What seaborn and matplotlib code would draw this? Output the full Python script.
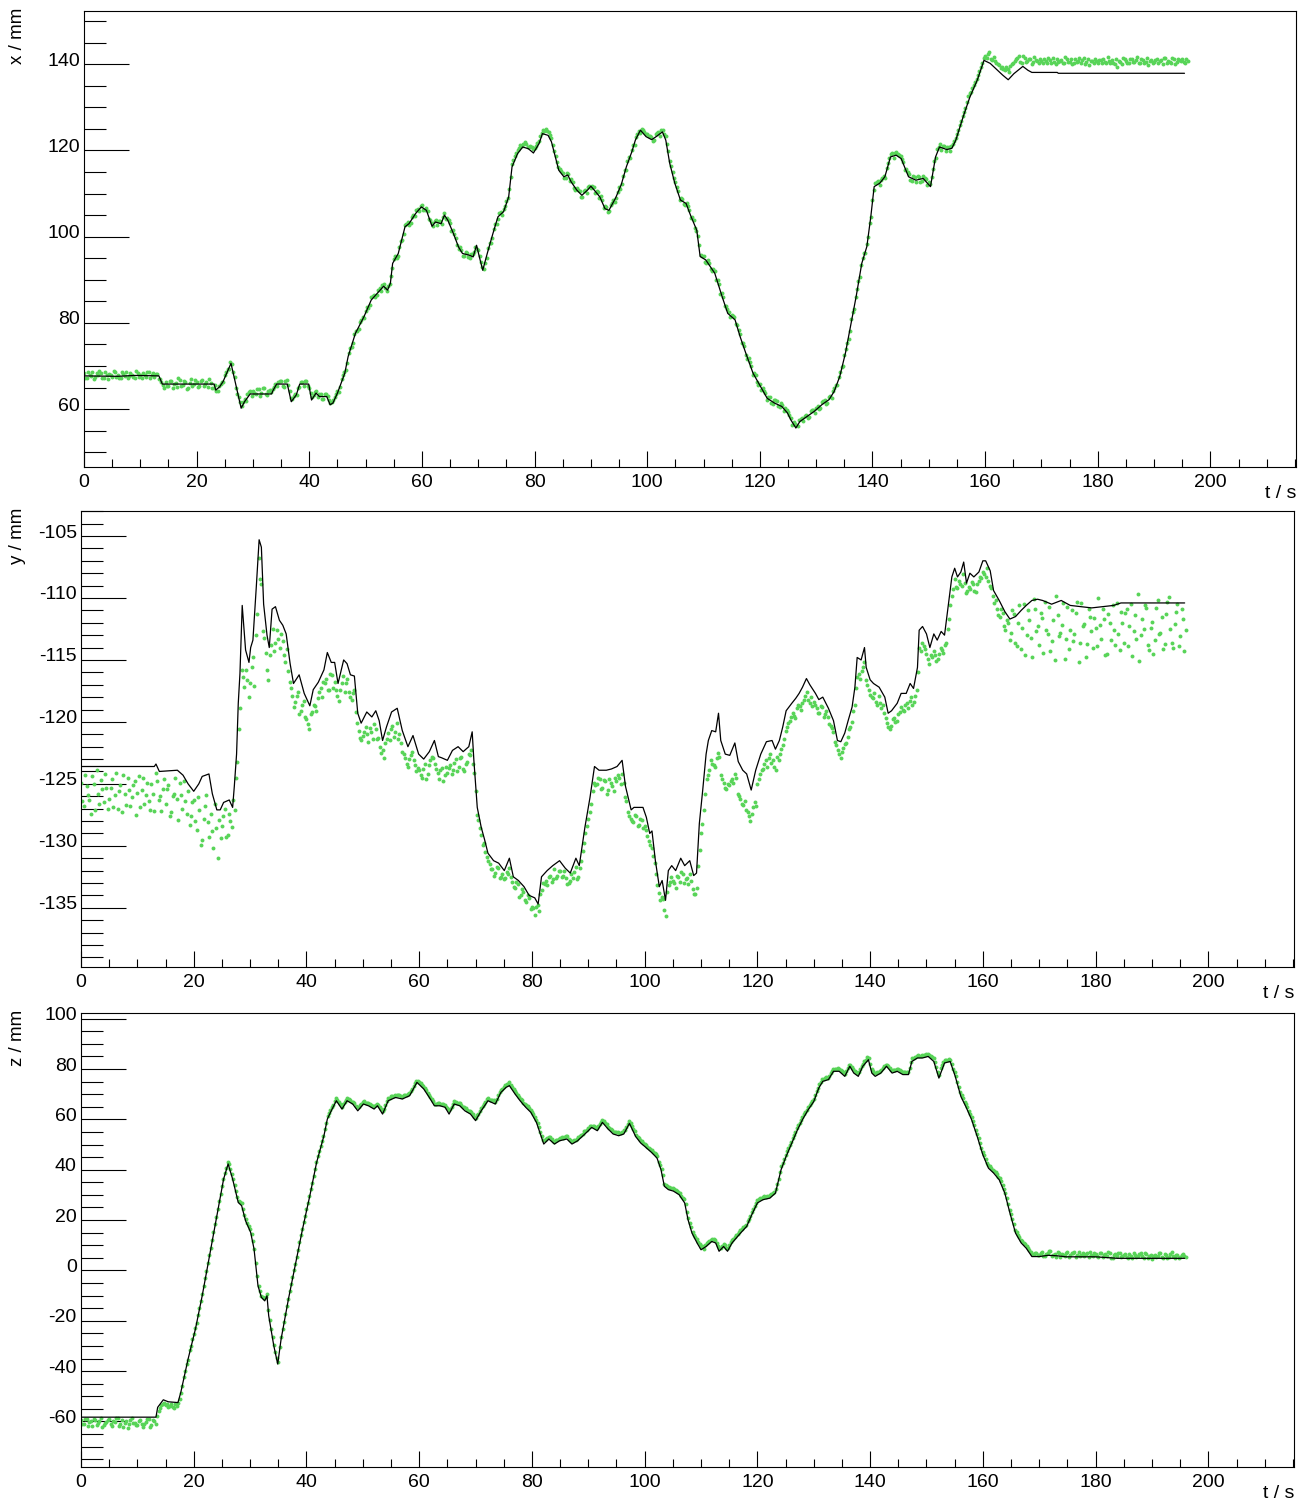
import numpy as np
import pandas as pd
import matplotlib
matplotlib.use("Agg")
import matplotlib.pyplot as plt
from matplotlib.ticker import MultipleLocator
from matplotlib.transforms import ScaledTranslation
import seaborn as sns

# Two interleaved measurement streams, each sampled every SAMPLE_DT;
# stream "a" starts at t = 0 s, stream "b" at t = 0.25 s.
SAMPLE_DT = 0.5
STREAM_B_START = 0.25

# Reconstructed track: (t / s, x / mm)
x_track = [
    (0, 67.7), (6, 67.6), (9, 67.8), (13.3, 67.7), (13.9, 65.8), (23.1, 65.8), (23.4, 64.4),
    (24.1, 65.2), (24.7, 66.4), (26.1, 70.6), (27.9, 60.2), (28.5, 61.7), (29.5, 63.5),
    (33.3, 63.5), (33.6, 64.4), (34.2, 65.8), (36.1, 65.8), (36.8, 61.7), (37.7, 63.3),
    (38.3, 65.8), (39.9, 65.8), (40.4, 62.1), (41.2, 63.7), (41.8, 62.9), (43.1, 62.9),
    (43.7, 61.0), (44.2, 61.4), (45.0, 63.7), (46.3, 68.3), (46.9, 72.2), (48.2, 77.6),
    (49.7, 81.4), (51.0, 85.3), (52.6, 87.6), (53.2, 88.5), (53.9, 87.6), (54.4, 89.2),
    (54.8, 93.8), (55.8, 96.1), (57.0, 102.3), (57.7, 103.0), (58.9, 105.4), (59.9, 106.9),
    (60.8, 106.1), (61.8, 102.4), (62.4, 103.4), (63.4, 103.0), (64.0, 105.0), (64.6, 103.8),
    (65.6, 100.7), (66.5, 97.6), (67.2, 96.1), (68.4, 95.7), (69.1, 95.3), (69.7, 98.0),
    (70.2, 95.3), (70.8, 92.2), (71.6, 96.1), (72.6, 100.7), (73.5, 104.6), (74.5, 105.8),
    (75.4, 109.2), (76.0, 116.2), (77.0, 119.3), (77.9, 120.8), (78.9, 120.4), (79.8, 119.4),
    (80.8, 121.6), (81.4, 123.9), (82.4, 123.5), (83.0, 122.0), (84.3, 115.4), (85.2, 113.9),
    (85.9, 114.3), (86.5, 112.7), (87.5, 110.8), (88.4, 109.6), (89.4, 110.8), (90.0, 111.7),
    (90.6, 110.8), (91.6, 109.2), (92.5, 106.5), (93.2, 106.1), (94.4, 109.0), (95.4, 112.1),
    (96.3, 116.2), (97.3, 119.8), (97.9, 122.4), (98.8, 124.7), (99.8, 123.2), (100.8, 122.5),
    (101.7, 123.3), (102.7, 124.3), (103.3, 122.4), (104.0, 117.0), (104.9, 112.4),
    (105.9, 108.5), (106.9, 107.7), (107.8, 104.6), (108.8, 101.5), (109.4, 95.4), (110.4, 94.6),
    (112.0, 91.5), (113.3, 86.1), (114.3, 82.2), (115.6, 80.7), (116.5, 76.8), (117.5, 73.0),
    (118.8, 68.3), (120.1, 65.3), (121.3, 62.5), (122.6, 61.4), (123.9, 60.6), (124.9, 59.1),
    (125.5, 57.5), (126.4, 55.6), (127.1, 57.1), (128.4, 58.3), (129.7, 59.5), (131.0, 61.0),
    (132.3, 62.2), (133.2, 64.1), (134.2, 67.6), (135.2, 73.0), (136.1, 79.2), (137.1, 86.1),
    (138.1, 93.8), (139.0, 97.7), (139.7, 104.6), (140.3, 111.6), (141.3, 112.4), (142.2, 113.9),
    (143.2, 118.5), (144.2, 118.9), (145.1, 118.1), (146.4, 113.9), (147.7, 113.1),
    (149.0, 113.5), (150.3, 111.6), (151.2, 118.5), (151.9, 120.8), (153.2, 120.2),
    (154.1, 120.5), (154.8, 122.4), (156.1, 127.8), (157.3, 132.4), (158.6, 136.3),
    (159.8, 140.9), (160.9, 140.2), (162.2, 138.6), (163.1, 137.5), (164.1, 136.4),
    (165.1, 137.8), (166.7, 139.5), (167.6, 138.6), (168.3, 138.1), (172.8, 138.1),
    (173.0, 137.9), (195.4, 137.9),
]

# Measured x, stream a
x_meas_a = [
    68.3, 67.2, 68.0, 68.6, 67.4, 67.9, 68.4, 67.1, 67.8, 68.2,
    67.5, 68.5, 67.9, 67.3, 68.1, 68.7, 67.6, 68.0, 67.2, 68.4,
    67.8, 68.3, 67.5, 68.6, 67.9, 67.4, 68.2, 66.9, 65.6, 66.2,
    65.3, 66.4, 65.9, 65.1, 66.7, 65.6, 66.2, 65.0, 66.9, 65.8,
    66.3, 65.4, 66.8, 65.7, 65.2, 66.1, 64.9, 64.2, 65.3, 66.2,
    67.9, 69.2, 70.9, 68.6, 65.0, 62.9, 60.8, 62.3, 63.4, 64.1,
    64.2, 63.4, 64.6, 63.8, 64.9, 63.2, 64.4, 64.6, 65.7, 66.3,
    66.4, 65.2, 66.7, 64.1, 62.4, 63.6, 64.9, 66.3, 65.4, 66.6,
    65.0, 62.8, 63.9, 62.7, 63.6, 62.4, 63.5, 62.2, 61.6, 62.7,
    64.2, 65.1, 67.8, 69.1, 73.0, 74.3, 77.3, 78.0, 80.1, 81.4,
    82.8, 83.5, 85.9, 86.4, 86.4, 88.1, 88.7, 88.0, 88.6, 90.9,
    94.8, 95.1, 97.6, 99.3, 102.8, 103.3, 103.2, 105.1, 106.1, 106.0,
    107.3, 106.1, 105.9, 103.9, 102.4, 103.9, 103.7, 102.9, 105.5, 104.4,
    103.1, 101.5, 99.8, 97.1, 96.9, 95.4, 96.3, 95.1, 95.9, 97.6,
    96.9, 94.2, 92.6, 95.1, 98.5, 99.8, 102.9, 104.2, 105.7, 106.3,
    108.2, 111.0, 116.9, 118.6, 120.1, 121.2, 121.6, 121.5, 120.8, 120.9,
    120.6, 121.8, 123.3, 124.7, 124.9, 124.2, 122.8, 119.9, 117.4, 115.6,
    114.7, 113.6, 114.6, 113.3, 111.3, 111.4, 110.6, 109.2, 110.9, 111.5,
    111.2, 111.6, 110.7, 108.9, 108.6, 107.0, 105.7, 107.3, 108.6, 109.0,
    111.5, 112.2, 115.4, 117.5, 118.3, 121.3, 123.2, 124.6, 125.0, 124.2,
    123.8, 123.4, 122.3, 123.7, 124.2, 124.8, 123.9, 121.5, 117.6, 114.9,
    112.6, 110.7, 108.9, 107.5, 107.9, 106.1, 104.5, 102.0, 100.1, 95.8,
    95.5, 93.9, 94.0, 92.0, 92.1, 89.9, 86.8, 85.9, 84.0, 82.6,
    81.9, 81.4, 79.5, 77.3, 75.4, 72.6, 71.8, 69.9, 68.3, 66.2,
    65.9, 64.9, 63.7, 62.8, 61.4, 62.0, 61.8, 60.4, 61.0, 60.2,
    59.3, 58.0, 56.9, 56.3, 57.4, 58.0, 58.5, 57.9, 59.5, 59.8,
    60.3, 60.0, 61.6, 62.0, 61.4, 63.1, 64.2, 65.6, 67.4, 69.8,
    72.5, 75.4, 78.1, 82.6, 86.0, 89.7, 93.5, 96.2, 98.3, 103.1,
    108.6, 112.4, 112.8, 113.2, 114.1, 115.9, 118.2, 119.3, 119.5, 119.2,
    118.7, 117.4, 115.8, 114.5, 113.0, 113.8, 114.0, 112.7, 114.1, 113.3,
    112.6, 113.8, 117.6, 120.4, 121.4, 121.1, 119.8, 120.9, 121.0, 122.2,
    123.8, 125.9, 127.9, 129.9, 132.6, 133.6, 135.1, 136.6, 138.5, 140.4,
    141.9, 142.3, 141.2, 141.6, 140.3, 139.8, 139.4, 138.7, 138.9, 139.7,
    140.2, 141.1, 141.8, 140.4, 141.5, 140.7, 141.3, 140.5, 140.9, 140.2,
    140.8, 141.2, 140.3, 140.9, 141.4, 140.1, 140.6, 141.0, 140.4, 141.3,
    140.6, 140.0, 141.1, 140.7, 140.3, 141.5, 140.5, 139.9, 140.8, 141.2,
    140.4, 140.9, 141.3, 140.2, 140.7, 141.0, 140.1, 139.3, 140.6, 141.4,
    140.8, 140.3, 141.1, 140.5, 141.7, 140.2, 140.9, 140.6, 139.8, 141.0,
    140.5, 141.2, 140.7, 140.0, 141.4, 140.8, 140.3, 141.1, 140.6, 140.9,
    141.3, 140.4, 140.8,
]

# Measured x, stream b
x_meas_b = [
    67.2, 68.6, 67.6, 67.0, 68.3, 68.8, 67.3, 68.5, 67.0, 67.9,
    68.9, 67.4, 67.1, 68.5, 67.6, 67.3, 68.4, 67.4, 68.8, 67.5,
    67.1, 67.9, 68.7, 67.2, 68.4, 68.1, 67.0, 66.2, 65.0, 65.4,
    66.6, 65.0, 66.1, 67.3, 65.4, 66.5, 64.7, 66.0, 65.4, 66.8,
    65.1, 66.6, 65.3, 66.2, 66.9, 64.8, 65.6, 64.1, 65.9, 66.2,
    68.7, 69.3, 70.4, 67.5, 63.6, 61.6, 61.7, 61.8, 63.9, 63.0,
    63.8, 64.7, 63.1, 65.0, 63.6, 64.3, 63.9, 65.2, 65.3, 66.4,
    65.3, 66.5, 65.6, 62.6, 63.1, 63.2, 65.1, 66.2, 66.4, 65.3,
    63.7, 63.3, 64.2, 63.5, 62.4, 63.4, 63.0, 61.5, 62.1, 63.5,
    64.0, 67.0, 68.6, 70.8, 74.2, 75.3, 78.2, 78.6, 80.7, 81.1,
    83.6, 84.2, 86.2, 85.9, 87.6, 87.4, 88.9, 87.3, 89.1, 92.7,
    95.4, 95.6, 98.9, 100.6, 103.0, 102.7, 104.6, 104.7, 106.5, 107.2,
    106.1, 106.6, 104.0, 103.1, 103.6, 102.8, 103.6, 104.6, 104.0, 103.8,
    101.3, 100.7, 98.0, 97.5, 95.6, 96.4, 95.2, 96.0, 96.5, 97.2,
    95.5, 93.0, 94.0, 97.3, 98.6, 101.8, 103.0, 105.4, 105.0, 107.2,
    109.0, 113.9, 117.7, 119.4, 120.6, 121.0, 121.9, 120.9, 121.0, 120.3,
    121.1, 122.2, 124.1, 124.4, 124.5, 123.5, 121.3, 118.6, 116.2, 115.2,
    113.5, 114.7, 112.8, 112.7, 110.8, 110.9, 109.3, 110.5, 110.1, 111.8,
    111.8, 110.1, 110.3, 109.5, 106.7, 106.9, 105.9, 107.9, 108.1, 110.3,
    111.1, 114.1, 115.4, 118.4, 120.1, 121.3, 123.9, 124.1, 124.7, 123.8,
    123.4, 123.1, 122.5, 124.0, 123.3, 124.7, 123.3, 119.9, 116.3, 113.7,
    111.5, 108.6, 108.8, 107.3, 107.1, 104.3, 103.8, 101.2, 98.0, 95.6,
    94.2, 94.5, 92.4, 92.6, 90.0, 88.9, 86.9, 84.0, 83.1, 81.3,
    81.6, 79.7, 78.4, 75.4, 74.6, 71.7, 70.9, 68.0, 67.8, 65.5,
    64.4, 64.3, 62.2, 62.7, 61.2, 62.0, 60.6, 61.3, 59.6, 59.8,
    58.6, 56.4, 56.5, 56.0, 57.8, 57.2, 58.7, 58.1, 59.7, 59.0,
    60.7, 60.2, 61.8, 61.2, 62.7, 62.6, 64.9, 65.5, 68.5, 70.0,
    73.9, 76.2, 80.9, 83.2, 87.9, 90.6, 95.0, 96.2, 100.0, 104.6,
    110.8, 112.6, 111.9, 113.6, 113.6, 117.0, 119.1, 118.2, 119.6, 118.9,
    118.1, 115.5, 115.0, 113.2, 114.0, 112.6, 113.9, 112.9, 113.7, 111.9,
    112.3, 115.6, 118.2, 120.9, 120.2, 121.0, 120.9, 119.9, 121.5, 122.8,
    124.8, 126.9, 129.0, 131.3, 133.3, 134.4, 135.9, 137.5, 139.4, 141.5,
    141.5, 142.8, 140.9, 140.7, 140.0, 139.2, 138.9, 139.3, 138.3, 140.1,
    140.8, 141.4, 140.5, 141.9, 140.6, 141.2, 140.1, 141.6, 140.7, 141.3,
    140.4, 140.7, 141.5, 140.2, 140.6, 141.2, 140.8, 140.3, 141.6, 140.5,
    141.1, 140.4, 140.6, 141.4, 140.9, 140.1, 141.3, 140.7, 140.2, 140.8,
    141.0, 140.3, 140.6, 141.6, 140.4, 140.2, 141.2, 140.8, 140.0, 141.1,
    140.2, 141.3, 140.6, 140.9, 140.3, 141.1, 140.4, 141.5, 140.7, 140.3,
    141.0, 140.2, 140.9, 141.5, 140.3, 140.6, 141.4, 140.1, 141.2, 140.7,
    140.5, 141.1,
]

# Reconstructed track: (t / s, y / mm)
y_track = [
    (0, -123.6), (13.0, -123.6), (13.3, -123.4), (13.9, -124.0), (17.1, -123.9), (18.1, -124.3),
    (19.0, -125.0), (20.0, -125.6), (20.9, -125.0), (21.5, -124.4), (22.7, -124.2),
    (23.3, -125.8), (24.1, -127.1), (24.7, -127.1), (25.3, -126.5), (26.3, -126.3),
    (26.9, -126.9), (27.2, -125.2), (27.6, -122.6), (27.9, -118.5), (28.2, -116.1),
    (28.6, -110.6), (29.2, -114.2), (29.8, -115.2), (30.1, -114.0), (30.5, -113.4),
    (31.1, -109.1), (31.6, -105.3), (32.0, -105.9), (32.4, -110.5), (33.0, -113.0),
    (33.4, -114.0), (33.9, -110.9), (34.5, -110.7), (35.2, -111.8), (35.8, -112.2),
    (36.4, -112.9), (37.1, -115.3), (37.7, -116.9), (38.7, -116.2), (39.6, -117.7),
    (40.6, -118.7), (41.2, -117.4), (42.1, -116.8), (43.1, -115.8), (43.7, -114.4),
    (44.4, -115.2), (45.0, -115.2), (45.6, -116.9), (46.6, -115.0), (47.2, -115.3),
    (47.8, -116.2), (48.5, -116.3), (49.1, -119.3), (49.7, -120.1), (50.7, -119.2),
    (51.6, -119.6), (52.3, -119.1), (52.9, -119.9), (53.5, -121.5), (54.2, -120.4),
    (55.1, -119.2), (56.1, -118.9), (57.0, -120.7), (58.0, -122.0), (58.9, -121.1),
    (59.9, -122.6), (60.8, -123.0), (61.8, -122.4), (62.7, -121.5), (63.4, -122.8),
    (64.0, -122.9), (65.0, -123.1), (65.9, -122.3), (66.9, -122.0), (67.8, -122.4),
    (68.8, -122.0), (69.4, -120.8), (69.7, -123.1), (70.3, -126.9), (71.0, -128.5),
    (71.6, -129.5), (72.2, -130.6), (73.2, -131.2), (74.1, -131.4), (75.1, -132.0),
    (76.0, -131.0), (76.7, -132.5), (77.6, -132.8), (78.6, -133.3), (79.5, -134.0),
    (80.5, -134.2), (81.1, -134.7), (81.7, -132.5), (82.7, -132.0), (83.7, -131.6),
    (84.9, -131.2), (85.9, -131.8), (86.8, -132.2), (87.8, -131.0), (88.4, -131.6),
    (89.4, -128.5), (90.3, -126.1), (91.1, -123.6), (91.9, -123.9), (93.2, -123.9),
    (94.1, -123.8), (95.1, -123.6), (96.0, -123.1), (96.6, -125.2), (97.6, -127.1),
    (98.1, -126.9), (99.7, -126.9), (100.3, -127.7), (100.9, -129.0), (101.3, -128.8),
    (101.9, -131.2), (102.6, -133.3), (103.1, -132.8), (103.7, -134.4), (104.2, -132.0),
    (104.8, -131.6), (105.5, -132.0), (106.4, -131.0), (107.1, -131.6), (108.0, -131.2),
    (108.7, -132.4), (109.2, -132.2), (109.7, -128.2), (110.3, -125.5), (110.9, -122.6),
    (111.3, -121.5), (111.9, -120.7), (112.6, -120.8), (113.1, -119.3), (113.5, -121.5),
    (114.3, -122.6), (115.1, -122.7), (116.0, -121.7), (116.6, -123.2), (117.4, -123.9),
    (118.1, -124.2), (118.9, -125.5), (119.7, -123.9), (120.6, -122.6), (121.6, -121.6),
    (122.6, -121.5), (123.2, -122.2), (123.9, -121.5), (124.5, -120.4), (125.1, -119.1),
    (126.1, -118.5), (126.8, -118.1), (127.4, -117.7), (128.0, -117.2), (128.7, -116.5),
    (129.3, -117.0), (130.3, -117.7), (130.9, -118.2), (131.6, -118.0), (132.6, -118.9),
    (133.5, -119.9), (134.2, -121.5), (134.8, -121.6), (135.5, -120.9), (136.1, -119.9),
    (136.8, -118.8), (137.3, -117.2), (137.7, -114.8), (138.4, -115.0), (139.0, -114.0),
    (139.3, -115.6), (140.0, -116.6), (140.6, -116.9), (141.6, -117.2), (142.6, -118.0),
    (143.2, -119.3), (143.8, -119.1), (144.8, -118.5), (145.5, -117.7), (146.4, -117.7),
    (147.1, -116.9), (147.7, -117.3), (148.4, -115.6), (148.7, -112.6), (149.3, -112.3),
    (150.0, -112.9), (150.6, -114.0), (151.3, -112.9), (151.9, -113.4), (152.6, -112.7),
    (153.2, -113.0), (153.9, -110.5), (154.5, -108.3), (155.0, -107.6), (155.5, -108.3),
    (156.1, -107.9), (156.6, -107.1), (157.1, -108.8), (157.7, -108.0), (158.4, -108.3),
    (159.3, -107.9), (160.0, -107.0), (160.5, -107.0), (161.3, -107.8), (161.9, -109.4),
    (162.9, -110.2), (163.9, -111.1), (164.8, -111.7), (165.8, -111.5), (166.8, -111.0),
    (167.7, -110.6), (168.7, -110.2), (169.7, -110.1), (170.6, -110.2), (172.2, -110.5),
    (173.9, -110.2), (175.5, -110.6), (177.4, -110.7), (179.3, -110.8), (181.3, -110.7),
    (183.2, -110.6), (184.5, -110.4), (195.8, -110.4),
]

# Measured y, stream a
y_meas_a = [
    -124.9, -126.8, -125.2, -126.3, -124.4, -127.1, -125.8, -124.7, -126.5, -125.3,
    -126.2, -124.6, -125.9, -127.0, -125.1, -124.3, -126.7, -125.5, -126.1, -124.8,
    -125.7, -126.9, -124.5, -125.9, -126.4, -125.0, -127.2, -124.8, -126.0, -125.4,
    -126.6, -125.1, -127.3, -125.8, -126.2, -124.9, -127.0, -126.4, -125.6, -127.6,
    -126.3, -128.7, -127.1, -129.5, -126.8, -128.1, -127.4, -130.2, -128.6, -127.9,
    -128.4, -127.0, -129.1, -128.0, -126.3, -124.5, -120.6, -115.8, -117.2, -116.6,
    -116.9, -114.8, -113.0, -106.8, -108.9, -113.2, -115.8, -114.6, -112.5, -113.6,
    -113.3, -112.9, -114.6, -114.1, -116.8, -117.9, -118.4, -117.6, -119.1, -118.3,
    -119.8, -120.6, -119.2, -118.7, -118.1, -117.3, -116.8, -116.5, -117.4, -116.2,
    -116.8, -117.9, -117.4, -116.3, -116.9, -117.6, -118.2, -117.4, -120.1, -121.3,
    -121.1, -120.4, -121.6, -120.8, -120.2, -121.4, -122.0, -122.3, -121.7, -120.9,
    -120.6, -121.2, -120.1, -121.0, -122.4, -122.9, -123.6, -122.7, -123.1, -124.0,
    -123.9, -124.5, -123.4, -124.2, -123.1, -122.9, -123.8, -124.6, -123.7, -124.3,
    -124.1, -123.5, -123.9, -123.0, -123.6, -122.8, -124.0, -123.2, -122.7, -123.4,
    -125.6, -127.9, -129.1, -129.8, -130.9, -131.5, -131.9, -132.2, -131.8, -132.5,
    -132.7, -132.1, -131.8, -132.9, -133.4, -133.1, -134.0, -133.7, -134.5, -134.2,
    -134.9, -135.6, -134.8, -133.9, -133.0, -132.8, -132.5, -132.9, -131.9, -132.4,
    -132.0, -132.4, -132.6, -133.0, -132.3, -132.1, -132.7, -131.8, -130.4, -129.0,
    -127.8, -126.6, -124.9, -125.0, -124.6, -125.3, -124.8, -125.5, -124.9, -125.6,
    -124.8, -124.5, -124.2, -126.1, -127.3, -127.8, -128.1, -127.6, -128.3, -127.9,
    -128.4, -129.2, -129.9, -130.8, -132.3, -133.8, -134.1, -135.2, -133.7, -132.9,
    -132.8, -133.4, -132.5, -132.1, -133.0, -132.6, -132.3, -133.5, -133.9, -131.6,
    -129.0, -127.1, -124.6, -123.9, -123.4, -123.6, -122.5, -124.3, -124.9, -125.4,
    -125.1, -124.6, -124.2, -125.8, -126.2, -126.7, -127.1, -127.6, -127.4, -126.5,
    -125.0, -124.2, -123.8, -123.1, -122.9, -123.3, -123.6, -122.8, -122.6, -121.9,
    -120.7, -120.1, -119.6, -119.5, -118.9, -118.7, -118.5, -117.9, -118.2, -118.0,
    -118.4, -118.9, -119.3, -118.8, -119.4, -119.6, -120.3, -120.8, -121.9, -122.6,
    -122.4, -121.8, -121.2, -120.4, -119.1, -117.3, -116.1, -115.9, -115.2, -117.0,
    -117.8, -118.1, -118.4, -117.9, -118.9, -119.3, -120.1, -120.6, -119.8, -120.0,
    -119.4, -118.8, -119.1, -118.5, -118.3, -118.6, -117.9, -116.0, -114.3, -113.9,
    -114.5, -115.3, -114.8, -114.6, -114.9, -114.0, -114.4, -113.6, -111.7, -109.8,
    -108.5, -109.2, -108.9, -108.1, -109.6, -109.1, -108.7, -109.4, -108.9, -108.3,
    -107.9, -108.3, -108.6, -109.2, -110.4, -110.9, -111.5, -111.2, -112.6, -112.0,
    -112.8, -111.3, -113.9, -110.6, -112.4, -114.6, -111.0, -113.2, -110.1, -112.7,
    -113.8, -111.6, -110.3, -112.9, -114.3, -111.8, -109.8, -113.1, -112.2, -114.9,
    -110.7, -112.6, -113.5, -111.2, -115.2, -110.4, -112.1, -113.7, -111.5, -114.0,
    -112.4, -110.0, -113.3, -111.7, -114.5, -112.0, -110.6, -113.8, -112.9, -111.1,
    -113.6, -110.9, -112.3, -114.7, -111.4, -109.7, -113.0, -112.5, -110.8, -114.2,
    -111.9, -113.4, -110.2, -112.8, -114.1, -111.3, -109.9, -113.6, -112.1, -110.5,
    -113.1, -111.7, -112.6,
]

# Measured y, stream b
y_meas_b = [
    -126.4, -124.3, -125.9, -127.4, -125.0, -123.9, -126.6, -125.4, -124.2, -127.0,
    -125.3, -126.9, -124.1, -125.6, -127.3, -125.8, -124.5, -126.8, -125.1, -127.5,
    -124.4, -125.5, -126.6, -124.9, -127.1, -125.8, -124.1, -126.3, -127.2, -124.6,
    -125.4, -127.6, -126.0, -124.5, -127.9, -125.9, -124.8, -127.4, -128.3, -126.5,
    -128.0, -126.1, -129.9, -127.8, -125.9, -129.3, -128.8, -126.6, -131.0, -129.4,
    -127.6, -129.3, -127.4, -128.5, -127.1, -123.2, -118.9, -116.4, -115.8, -118.0,
    -115.6, -117.1, -111.3, -108.5, -112.7, -114.4, -116.6, -113.8, -114.3, -112.6,
    -114.0, -113.5, -115.2, -115.9, -117.3, -118.8, -117.9, -119.4, -118.6, -119.6,
    -120.2, -119.4, -118.6, -119.1, -117.6, -118.0, -116.9, -117.4, -116.1, -117.3,
    -117.4, -118.3, -116.9, -117.6, -116.5, -118.0, -117.7, -119.2, -120.7, -121.5,
    -120.8, -121.0, -120.5, -121.4, -120.6, -121.3, -122.5, -122.9, -121.4, -121.5,
    -120.3, -120.8, -121.4, -121.7, -122.6, -123.4, -123.0, -122.4, -123.5, -123.7,
    -124.3, -123.8, -124.6, -123.5, -122.8, -123.4, -124.1, -123.9, -124.8, -123.6,
    -123.7, -124.2, -123.3, -124.0, -122.9, -123.8, -123.4, -122.6, -122.3, -124.1,
    -127.5, -128.6, -129.9, -130.5, -131.2, -131.9, -132.4, -131.7, -132.6, -132.3,
    -132.6, -132.3, -132.5, -133.3, -132.9, -134.1, -133.5, -134.4, -134.0, -135.1,
    -135.0, -134.9, -135.3, -133.6, -133.1, -133.2, -132.4, -132.7, -132.6, -132.0,
    -132.5, -132.0, -133.1, -132.8, -132.6, -131.7, -132.5, -131.2, -129.8, -128.4,
    -127.3, -125.6, -125.1, -124.5, -125.4, -124.7, -125.8, -124.6, -125.2, -124.5,
    -124.3, -125.0, -124.9, -126.4, -127.6, -128.0, -127.5, -128.4, -127.8, -128.6,
    -128.7, -129.6, -130.2, -131.4, -133.2, -134.4, -134.3, -135.7, -133.2, -132.5,
    -133.0, -132.4, -132.9, -132.3, -132.7, -133.1, -132.8, -133.9, -133.4, -130.3,
    -128.2, -125.8, -124.3, -123.1, -123.5, -122.9, -122.8, -124.6, -125.3, -125.0,
    -124.8, -124.9, -124.5, -126.0, -126.6, -126.4, -127.3, -128.0, -126.9, -126.8,
    -124.6, -123.9, -123.4, -123.6, -122.6, -123.1, -123.9, -123.1, -122.2, -121.4,
    -120.4, -119.9, -119.3, -119.7, -118.6, -119.0, -118.2, -117.6, -118.5, -118.7,
    -118.6, -119.3, -118.7, -119.6, -119.1, -120.2, -120.5, -121.6, -122.3, -122.9,
    -122.1, -121.7, -120.6, -120.0, -118.6, -116.4, -116.5, -115.6, -116.6, -117.4,
    -118.0, -117.7, -118.6, -118.5, -118.6, -119.7, -120.4, -120.3, -119.7, -119.9,
    -119.2, -119.0, -118.6, -118.9, -118.0, -118.4, -117.4, -114.0, -113.6, -114.1,
    -114.9, -114.6, -114.3, -115.1, -114.5, -114.2, -113.8, -112.5, -110.6, -109.3,
    -109.1, -108.6, -109.0, -108.8, -109.4, -109.3, -108.9, -109.5, -108.6, -108.4,
    -108.1, -107.6, -109.0, -109.8, -110.2, -111.4, -110.9, -112.3, -111.8, -113.4,
    -111.0, -113.6, -112.0, -114.1, -110.5, -113.0, -111.8, -114.8, -110.9, -112.3,
    -111.2, -114.4, -112.6, -110.7, -113.5, -115.0, -111.4, -112.8, -110.4, -113.3,
    -114.1, -111.0, -112.9, -110.3, -113.6, -112.3, -114.8, -110.9, -112.7, -111.6,
    -113.9, -112.2, -110.9, -114.6, -111.3, -113.4, -112.6, -110.4, -114.2, -112.0,
    -111.2, -113.9, -110.5, -112.7, -113.3, -115.1, -111.7, -110.6, -113.8, -112.4,
    -114.5, -110.8, -112.9, -111.5, -113.7, -110.3, -112.5, -114.0, -111.1, -113.9,
    -110.9, -114.3,
]

# Reconstructed track: (t / s, z / mm)
z_track = [
    (0, -58.3), (13.3, -58.3), (13.6, -54.4), (14.6, -51.4), (15.5, -52.2), (17.2, -52.5),
    (17.7, -48.5), (19.0, -35.2), (20.3, -23.3), (21.5, -10.1), (22.8, 5.8), (24.1, 21.7),
    (25.3, 36.3), (26.1, 42.3), (26.9, 36.3), (27.9, 27.0), (28.5, 25.7), (29.2, 19.7),
    (30.1, 15.1), (30.7, 8.5), (31.4, -6.1), (32.0, -10.7), (32.6, -12.1), (33.0, -10.1),
    (33.3, -18.0), (34.2, -29.9), (34.9, -37.2), (35.5, -27.3), (36.8, -11.4), (38.0, 1.9),
    (39.3, 16.4), (40.6, 29.7), (41.8, 42.9), (43.1, 53.5), (43.7, 60.1), (44.4, 63.4),
    (45.3, 67.4), (46.3, 64.1), (47.2, 67.4), (48.2, 66.1), (49.1, 63.4), (50.1, 66.1),
    (51.0, 65.4), (52.0, 64.1), (52.6, 65.4), (53.5, 62.1), (54.5, 67.4), (55.8, 68.7),
    (57.0, 68.1), (58.3, 69.4), (59.6, 74.7), (60.8, 72.1), (61.8, 68.7), (62.7, 65.4),
    (63.7, 65.4), (64.6, 64.8), (65.3, 62.1), (66.2, 66.1), (67.2, 65.4), (68.1, 63.4),
    (69.1, 62.1), (70.0, 59.5), (71.0, 63.4), (72.2, 67.4), (73.5, 66.1), (74.5, 70.7),
    (75.4, 72.7), (76.0, 73.4), (77.0, 70.1), (77.9, 67.4), (78.9, 64.8), (79.8, 62.8),
    (80.8, 58.8), (81.4, 54.8), (82.1, 50.2), (83.0, 52.2), (84.0, 50.2), (84.9, 51.5),
    (86.2, 52.2), (87.1, 50.2), (88.1, 51.5), (89.4, 54.2), (90.6, 56.8), (91.6, 55.5),
    (92.5, 58.8), (93.5, 56.2), (94.4, 54.2), (95.4, 53.5), (96.3, 54.2), (97.3, 58.4),
    (98.4, 53.2), (99.3, 50.6), (100.3, 48.7), (101.3, 46.7), (102.2, 44.6), (102.9, 40.0),
    (103.5, 33.4), (104.2, 32.1), (105.1, 31.5), (106.1, 30.1), (107.1, 26.8), (107.7, 20.1),
    (108.4, 14.8), (109.3, 10.9), (110.0, 8.2), (110.9, 9.5), (111.9, 11.5), (112.6, 10.9),
    (113.2, 7.6), (114.0, 9.5), (114.7, 7.6), (115.5, 10.9), (116.8, 14.3), (118.1, 17.5),
    (119.0, 22.1), (120.0, 26.8), (121.0, 28.1), (122.2, 28.7), (123.2, 30.7), (124.2, 40.0),
    (125.1, 45.3), (126.1, 50.6), (127.1, 55.8), (128.0, 59.9), (129.0, 63.8), (130.0, 67.1),
    (130.9, 72.5), (131.6, 75.1), (132.6, 75.8), (133.5, 79.1), (134.5, 79.1), (135.5, 77.1),
    (136.4, 81.1), (137.1, 78.4), (137.9, 77.1), (138.7, 81.1), (139.7, 83.7), (140.3, 78.4),
    (140.9, 77.1), (141.9, 78.4), (142.9, 81.1), (143.9, 78.4), (144.8, 79.1), (145.8, 77.8),
    (146.8, 77.8), (147.4, 83.0), (148.4, 84.4), (149.3, 84.4), (150.3, 85.0), (151.3, 83.0),
    (152.2, 76.4), (153.2, 82.4), (154.2, 83.0), (155.1, 77.1), (156.1, 69.1), (157.1, 64.5),
    (158.0, 59.9), (159.0, 53.2), (160.0, 45.9), (161.0, 40.6), (161.9, 38.7), (162.9, 36.0),
    (163.9, 30.7), (164.8, 22.8), (165.8, 14.8), (166.8, 10.9), (167.7, 8.8), (168.7, 5.5),
    (170.0, 5.5), (171.6, 6.0), (173.2, 5.8), (174.8, 5.4), (180.0, 5.4), (183.9, 4.8),
    (195.8, 4.8),
]

# Measured z, stream a
z_meas_a = [
    -59.6, -61.2, -58.9, -60.4, -62.0, -59.3, -60.8, -58.5, -61.5, -60.1,
    -59.0, -61.8, -60.3, -58.7, -60.9, -62.3, -59.8, -61.0, -58.8, -60.6,
    -61.4, -59.5, -62.1, -60.2, -59.1, -61.6, -60.0, -57.8, -54.6, -52.9,
    -53.4, -54.1, -53.0, -54.6, -53.8, -51.2, -45.9, -40.0, -35.6, -30.1,
    -25.4, -20.7, -14.9, -9.3, -3.2, 2.9, 8.8, 15.2, 21.1, 27.4,
    33.5, 38.6, 42.9, 40.1, 36.2, 31.6, 27.5, 26.6, 22.1, 19.0,
    16.4, 11.5, 3.0, -6.2, -10.1, -11.0, -9.3, -19.8, -26.6, -32.4,
    -36.4, -26.5, -20.4, -14.3, -8.1, -2.8, 2.7, 8.3, 13.9, 19.2,
    24.4, 29.5, 34.9, 40.4, 45.4, 49.4, 53.5, 58.7, 62.6, 64.9,
    67.3, 67.8, 66.0, 66.1, 67.5, 68.2, 67.1, 66.4, 64.8, 65.9,
    67.0, 66.5, 66.6, 65.7, 65.3, 66.1, 65.0, 63.4, 65.9, 68.3,
    69.1, 69.3, 69.7, 69.5, 69.0, 69.8, 70.1, 71.3, 73.4, 75.4,
    74.9, 73.5, 72.5, 70.6, 69.0, 67.2, 66.3, 66.7, 66.2, 65.8,
    64.5, 64.1, 66.3, 66.9, 66.6, 65.6, 64.8, 63.9, 63.3, 62.0,
    60.6, 62.3, 64.5, 66.2, 67.9, 67.7, 67.8, 67.0, 69.5, 71.8,
    72.9, 73.9, 74.8, 72.7, 71.2, 69.5, 68.2, 66.7, 65.7, 64.4,
    63.1, 60.9, 58.6, 55.0, 52.0, 52.2, 53.1, 52.3, 51.1, 52.0,
    52.7, 52.6, 53.2, 52.4, 51.5, 51.9, 52.3, 53.4, 54.3, 55.5,
    56.6, 57.5, 57.4, 56.5, 58.1, 59.8, 58.6, 57.1, 56.2, 55.0,
    54.9, 54.5, 55.1, 55.9, 58.2, 58.5, 56.2, 53.8, 52.6, 51.3,
    50.4, 49.2, 48.4, 47.1, 46.2, 42.9, 40.2, 34.5, 33.4, 32.9,
    32.7, 31.8, 31.3, 29.7, 28.2, 23.2, 18.9, 15.3, 13.3, 11.1,
    9.3, 8.4, 10.8, 11.6, 12.5, 11.9, 9.8, 9.0, 10.6, 8.9,
    9.9, 12.0, 13.3, 14.4, 15.9, 17.1, 18.2, 20.6, 23.2, 25.4,
    27.9, 28.6, 29.2, 29.3, 29.7, 30.4, 31.2, 34.3, 39.2, 42.7,
    45.8, 48.5, 51.2, 53.8, 56.4, 58.5, 61.0, 62.8, 64.9, 66.6,
    68.2, 71.2, 74.0, 75.9, 76.5, 76.6, 78.4, 80.2, 80.0, 80.2,
    79.2, 78.0, 80.4, 81.8, 79.9, 78.7, 78.7, 81.2, 83.0, 84.6,
    82.0, 79.1, 78.4, 78.8, 79.8, 81.1, 81.7, 80.6, 79.6, 79.8,
    79.9, 79.3, 78.9, 78.7, 80.6, 84.2, 84.9, 85.5, 85.3, 85.6,
    85.9, 85.7, 84.7, 82.9, 79.0, 80.5, 82.9, 83.7, 84.0, 81.9,
    78.8, 75.0, 71.0, 68.4, 66.1, 63.5, 61.0, 57.6, 54.3, 50.6,
    47.0, 44.3, 41.7, 40.6, 39.5, 38.2, 36.6, 34.0, 30.9, 26.5,
    22.3, 18.3, 15.1, 13.2, 11.5, 10.3, 8.9, 7.3, 6.6, 7.0,
    6.3, 7.4, 5.8, 6.9, 7.6, 6.1, 5.5, 7.1, 6.5, 5.9,
    7.2, 6.0, 6.8, 5.4, 7.5, 6.3, 5.7, 6.9, 7.3, 5.8,
    6.6, 5.2, 7.0, 6.1, 5.6, 6.8, 4.9, 6.4, 7.1, 5.5,
    6.0, 5.3, 6.7, 4.8, 6.2, 5.7, 7.0, 5.1, 6.4, 5.9,
    4.7, 6.3, 5.6, 6.8, 5.0, 6.1, 5.4, 7.2, 4.9, 6.0,
    5.5, 6.5, 5.2,
]

# Measured z, stream b
z_meas_b = [
    -60.9, -59.2, -61.7, -60.0, -58.9, -61.3, -59.7, -62.4, -60.5, -59.4,
    -61.1, -60.0, -58.6, -61.9, -59.6, -60.8, -62.6, -59.3, -60.7, -61.5,
    -59.8, -60.9, -61.0, -58.9, -62.2, -59.4, -61.2, -56.0, -53.4, -52.6,
    -52.9, -53.8, -54.4, -53.1, -52.6, -48.6, -42.2, -37.0, -31.6, -27.4,
    -23.0, -17.6, -12.2, -6.1, -0.1, 6.1, 12.1, 18.4, 24.4, 30.5,
    36.2, 40.6, 42.1, 38.3, 33.9, 29.3, 27.0, 24.5, 20.3, 17.8,
    14.3, 8.4, -2.2, -8.0, -10.5, -10.6, -15.9, -23.2, -29.6, -34.8,
    -30.6, -23.4, -17.3, -11.2, -5.4, 0.0, 5.5, 11.1, 16.6, 21.8,
    26.9, 32.2, 37.7, 43.1, 47.5, 51.4, 56.0, 61.3, 63.8, 65.8,
    68.4, 66.9, 65.1, 67.0, 68.5, 67.6, 67.0, 65.4, 65.0, 66.3,
    67.2, 66.4, 66.3, 65.4, 65.8, 65.7, 64.2, 64.3, 67.3, 68.5,
    69.4, 69.5, 69.7, 69.2, 69.6, 69.7, 70.5, 72.1, 74.5, 75.3,
    74.5, 73.1, 71.7, 69.7, 68.2, 66.3, 66.6, 66.2, 66.2, 65.1,
    63.7, 64.9, 67.3, 66.6, 66.5, 65.1, 64.5, 63.5, 62.8, 61.1,
    61.7, 63.3, 65.4, 66.8, 68.5, 67.6, 67.6, 68.2, 70.8, 72.2,
    73.6, 74.0, 73.8, 71.9, 70.6, 68.7, 67.7, 66.1, 65.2, 63.8,
    62.2, 59.9, 57.0, 53.4, 51.7, 52.5, 52.9, 51.6, 51.8, 52.2,
    52.9, 52.9, 53.2, 51.9, 51.6, 52.0, 53.0, 53.7, 55.2, 55.9,
    57.2, 57.5, 57.1, 57.2, 59.1, 59.4, 58.0, 56.5, 55.8, 54.8,
    54.8, 54.7, 55.7, 56.9, 59.4, 57.2, 55.2, 53.1, 52.0, 50.7,
    50.0, 48.7, 47.9, 46.6, 45.5, 41.9, 38.1, 33.8, 33.3, 32.7,
    32.5, 31.4, 30.8, 28.9, 26.3, 20.8, 17.2, 14.2, 12.4, 10.3,
    9.7, 10.2, 11.4, 12.1, 12.5, 11.0, 8.9, 9.7, 10.1, 8.8,
    11.1, 12.4, 14.1, 15.1, 16.6, 17.5, 19.5, 21.7, 24.5, 26.6,
    28.3, 28.7, 29.4, 29.4, 30.0, 30.6, 32.2, 36.5, 41.5, 44.1,
    47.3, 49.7, 52.6, 54.9, 57.7, 59.6, 62.2, 63.8, 65.8, 67.2,
    69.8, 72.4, 75.0, 76.1, 76.8, 77.3, 79.4, 80.0, 80.3, 79.5,
    78.8, 79.1, 81.6, 80.7, 79.4, 78.3, 80.0, 82.1, 83.7, 84.2,
    80.0, 78.3, 78.8, 79.1, 80.5, 81.6, 81.3, 79.7, 79.8, 80.0,
    79.7, 78.8, 79.0, 78.7, 82.9, 84.4, 85.3, 85.3, 85.6, 85.5,
    86.1, 85.0, 84.3, 80.8, 77.8, 81.6, 83.6, 83.6, 83.6, 80.1,
    77.1, 72.8, 69.6, 67.1, 64.9, 62.0, 59.4, 55.7, 52.6, 48.6,
    45.8, 42.8, 41.3, 39.8, 38.9, 37.3, 35.4, 32.3, 28.8, 24.1,
    20.4, 15.9, 14.2, 12.0, 11.0, 9.5, 8.2, 6.5, 6.9, 6.2,
    7.0, 5.6, 6.4, 7.8, 5.9, 6.7, 7.3, 5.4, 6.2, 7.0,
    5.5, 6.9, 7.4, 6.0, 5.8, 7.1, 6.5, 5.3, 6.2, 7.0,
    5.8, 6.9, 5.4, 6.6, 7.3, 5.0, 6.2, 5.7, 6.8, 5.9,
    6.6, 5.0, 5.9, 6.9, 5.3, 6.5, 5.6, 6.8, 4.9, 6.1,
    5.9, 5.2, 6.9, 5.5, 6.4, 4.9, 6.6, 5.8, 6.2, 5.1,
    6.3, 5.6,
]

GREEN = "#58d458"
W, H = 1305, 1501

sns.set_theme(style="ticks")
plt.rcParams["font.family"] = ["Liberation Sans", "DejaVu Sans"]
plt.rcParams["axes.unicode_minus"] = False
for key in ("axes.edgecolor", "xtick.color", "ytick.color", "text.color", "axes.labelcolor"):
    plt.rcParams[key] = "black"

fig = plt.figure(figsize=(W / 100, H / 100), dpi=100)


def frac_rect(left, top, right, bottom):
    return [left / W, 1 - bottom / H, (right - left) / W, (bottom - top) / H]


def measurements(stream_a, stream_b):
    a = pd.DataFrame({"t": np.arange(len(stream_a)) * SAMPLE_DT, "v": stream_a})
    b = pd.DataFrame({"t": STREAM_B_START + np.arange(len(stream_b)) * SAMPLE_DT, "v": stream_b})
    return pd.concat([a, b], ignore_index=True).sort_values("t")


panels = [
    dict(track=x_track, meas=(x_meas_a, x_meas_b), name="x / mm", box=(84, 11, 1296, 467),
         ylim=(46.56, 152.35), major=20, minor=5),
    dict(track=y_track, meas=(y_meas_a, y_meas_b), name="y / mm", box=(81, 511, 1294, 967),
         ylim=(-139.78, -102.98), major=5, minor=1),
    dict(track=z_track, meas=(z_meas_a, z_meas_b), name="z / mm", box=(81, 1013, 1294, 1467),
         ylim=(-78.1, 102.26), major=20, minor=5),
]

label_shift = ScaledTranslation(0, 0.05, fig.dpi_scale_trans)

for p in panels:
    left, top, right, bottom = p["box"]
    ax = fig.add_axes(frac_rect(left, top, right, bottom))

    meas = measurements(*p["meas"])
    track = pd.DataFrame(p["track"], columns=["t", "v"])

    sns.scatterplot(data=meas, x="t", y="v", ax=ax, s=8, color=GREEN,
                    linewidth=0, legend=False, zorder=2)
    sns.lineplot(data=track, x="t", y="v", ax=ax, estimator=None, sort=False,
                 color="black", linewidth=0.9, zorder=3)

    ax.set_xlim(0, 215.2)
    ax.set_ylim(*p["ylim"])
    ax.set_xlabel("")
    ax.set_ylabel("")

    ax.xaxis.set_major_locator(MultipleLocator(20))
    ax.xaxis.set_minor_locator(MultipleLocator(5))
    ax.yaxis.set_major_locator(MultipleLocator(p["major"]))
    ax.yaxis.set_minor_locator(MultipleLocator(p["minor"]))

    ax.tick_params(axis="y", which="major", direction="in", length=32.4, width=0.8,
                   labelsize=14, pad=3)
    ax.tick_params(axis="y", which="minor", direction="in", length=15.8, width=0.8)
    ax.tick_params(axis="x", which="major", direction="in", length=11.5, width=0.8,
                   labelsize=14, pad=5)
    ax.tick_params(axis="x", which="minor", direction="in", length=5.8, width=0.8)
    for sp in ax.spines.values():
        sp.set_visible(True)
        sp.set_linewidth(0.8)
        sp.set_color("black")

    for lab in ax.get_yticklabels():
        lab.set_transform(lab.get_transform() + label_shift)

    fig.text(18 / W, 1 - (top - 3) / H, p["name"], rotation=90, ha="center", va="top",
             fontsize=13.5)
    fig.text(right / W, 1 - (bottom + 27) / H, "t / s", ha="right", va="center",
             fontsize=14)

fig.savefig("out.png", dpi=100)
